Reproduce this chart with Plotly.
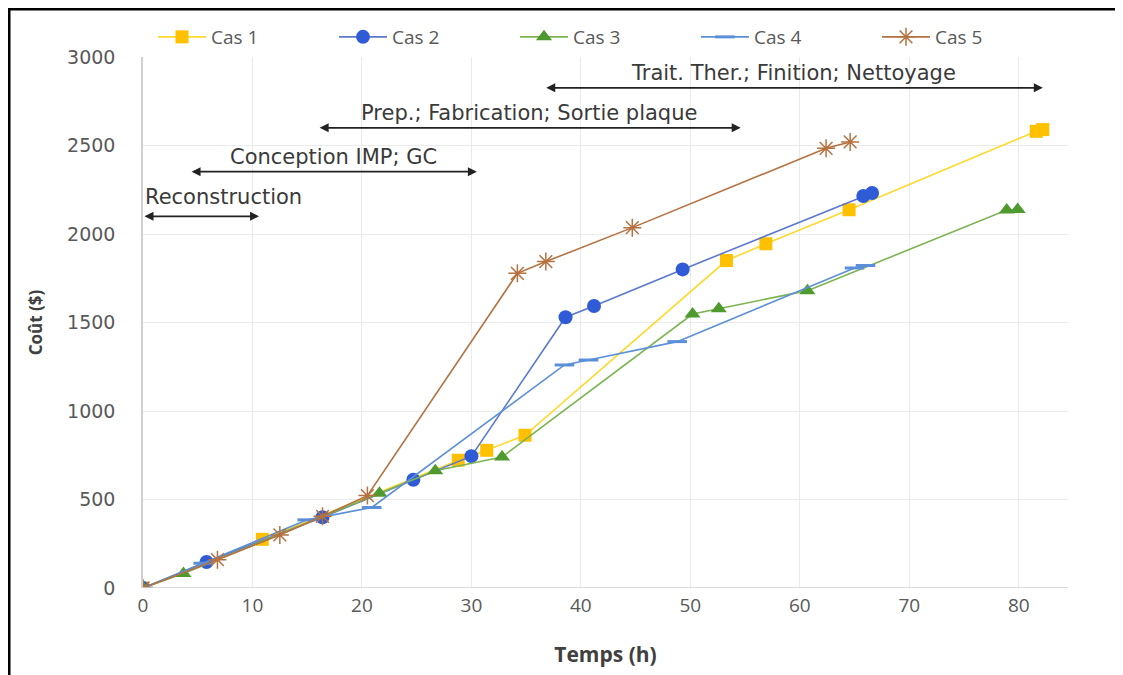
import plotly.graph_objects as go

# Data
cas1_x = [0, 10.9, 28.8, 31.4, 34.9, 53.3, 56.9, 64.5, 81.6, 82.2]
cas1_y = [0, 275, 722, 778, 863, 1850, 1945, 2137, 2580, 2590]

cas2_x = [0, 5.8, 16.4, 24.7, 30.0, 38.6, 41.2, 49.3, 65.8, 66.6]
cas2_y = [0, 147, 400, 612, 745, 1530, 1593, 1800, 2215, 2232]

cas3_x = [0, 3.7, 21.6, 26.7, 32.8, 50.2, 52.6, 60.7, 78.9, 79.9]
cas3_y = [0, 82, 535, 662, 740, 1548, 1578, 1680, 2135, 2138]

cas4_x = [0, 5.5, 15.0, 20.9, 38.5, 40.7, 48.8, 65.0, 66.0]
cas4_y = [0, 140, 385, 455, 1260, 1288, 1392, 1808, 1822]

cas5_x = [0, 6.8, 12.5, 16.4, 20.5, 34.2, 36.8, 44.7, 62.4, 64.6]
cas5_y = [0, 160, 300, 405, 522, 1778, 1844, 2036, 2484, 2520]

phase_labels = ["Reconstruction", "Conception IMP; GC",
                "Prep.; Fabrication; Sortie plaque",
                "Trait. Ther.; Finition; Nettoyage"]
phase_start = [0, 4.3, 16.0, 36.7]
phase_end = [10.6, 30.5, 54.6, 82.2]
phase_y = [2100, 2352, 2600, 2826]

FONT = "Open Sans"
WIDE = "DejaVu Sans"
GREY = "#595959"

fig = go.Figure()

fig.add_trace(go.Scatter(
    x=cas1_x, y=cas1_y, name="Cas 1", mode="lines+markers",
    line=dict(color="#FFD92E", width=1.6),
    marker=dict(symbol="square", size=13, color="#FFC000"),
))
fig.add_trace(go.Scatter(
    x=cas2_x, y=cas2_y, name="Cas 2", mode="lines+markers",
    line=dict(color="#5B78D0", width=1.6),
    marker=dict(symbol="circle", size=14, color="#2F5BD6"),
))
fig.add_trace(go.Scatter(
    x=cas3_x, y=cas3_y, name="Cas 3", mode="lines+markers",
    line=dict(color="#7DB452", width=1.6),
    marker=dict(symbol="triangle-up", size=14, color="#4E9A2E"),
))
fig.add_trace(go.Scatter(
    x=cas4_x, y=cas4_y, name="Cas 4", mode="lines+markers",
    line=dict(color="#5B8FD8", width=1.6),
    marker=dict(symbol="line-ew-open", size=14,
                line=dict(color="#2F6FD0", width=3)),
))
fig.add_trace(go.Scatter(
    x=cas5_x, y=cas5_y, name="Cas 5", mode="lines+markers",
    line=dict(color="#B5713F", width=1.6),
    marker=dict(symbol="asterisk-open", size=15,
                line=dict(color="#9A5A32", width=1.5)),
))

# phase arrows and labels
for label, x0, x1, yv in zip(phase_labels, phase_start, phase_end, phase_y):
    fig.add_annotation(
        x=x1, y=yv, ax=x0, ay=yv, xref="x", yref="y", axref="x", ayref="y",
        text="", showarrow=True, arrowhead=2, arrowside="end+start",
        arrowsize=1, arrowwidth=1.8, arrowcolor="#222222",
    )
    if label == "Reconstruction":
        fig.add_annotation(x=x0, y=yv, xref="x", yref="y", text=label,
                           showarrow=False, xanchor="left", yanchor="bottom",
                           yshift=5, font=dict(family=WIDE, size=21, color="#3A3A3A"))
    else:
        fig.add_annotation(x=(x0 + x1) / 2, y=yv, xref="x", yref="y", text=label,
                           showarrow=False, xanchor="center", yanchor="bottom",
                           yshift=1, font=dict(family=WIDE, size=21, color="#3A3A3A"))

# figure sized to the page (the page body adds an 8 px margin)
W, H = 1115, 667
L, T, R, B = 135, 49, 55, 87
pw, ph = W - L - R, H - T - B

# outer frame of the picture
fig.add_shape(type="rect", xref="paper", yref="paper",
              x0=(1 - L) / pw, x1=(1111 - L) / pw,
              y0=-(B + 20) / ph, y1=(ph + T - 1) / ph,
              line=dict(color="black", width=3))

fig.update_layout(
    width=W, height=H,
    margin=dict(l=L, r=R, t=T, b=B, autoexpand=False),
    plot_bgcolor="white", paper_bgcolor="white",
    font=dict(family=FONT, size=15, color=GREY),
    legend=dict(orientation="h", x=0.5, xanchor="center", y=1 + 20 / ph,
                yanchor="middle",
                font=dict(family=FONT, size=19, color=GREY),
                entrywidth=118, itemwidth=48),
    showlegend=True,
)
fig.update_xaxes(
    range=[0, 84.5], dtick=10, tick0=0,
    showgrid=True, gridcolor="#EBEBEB", zeroline=False,
    showline=False, ticks="", ticklabelstandoff=4,
    title=dict(text="<b>Temps (h)</b>", font=dict(family=FONT, size=21, color="#404040"),
               standoff=30),
    tickfont=dict(family=FONT, size=19, color=GREY),
)
fig.update_yaxes(
    range=[0, 3000], dtick=500,
    showgrid=True, gridcolor="#EBEBEB", zeroline=False,
    showline=True, linecolor="#D0D0D0", linewidth=1.5, ticks="",
    ticklabelstandoff=22,
    title=dict(text="<b>Coût ($)</b>", font=dict(family=FONT, size=17, color="#404040"),
               standoff=20),
    tickfont=dict(family=WIDE, size=19, color=GREY),
)
fig.add_hline(y=0, line=dict(color="#D0D0D0", width=1.5))

fig.write_html("out.html")
